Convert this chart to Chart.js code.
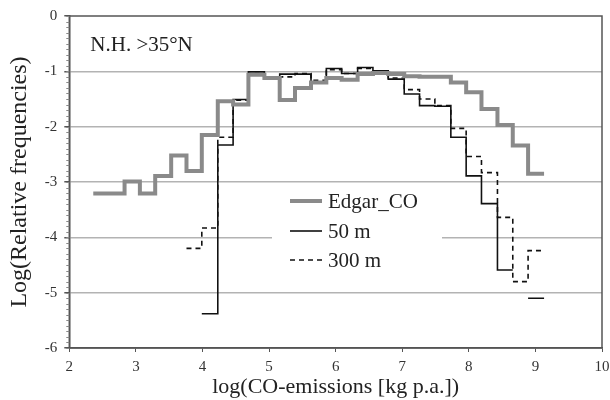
<!DOCTYPE html>
<html>
<head>
<meta charset="utf-8">
<script src="https://cdn.jsdelivr.net/npm/chart.js@4.4.1/dist/chart.umd.min.js"></script>
<style>
  html, body { margin: 0; padding: 0; background: #fff; overflow: hidden; }
  #wrap { width: 610px; height: 400px; }
</style>
</head>
<body>
<div id="wrap"><canvas id="coChart" width="610" height="400"></canvas></div>
<script>
'use strict';

// bin edges of the histogram, log(CO-emissions)
var binEdges = [2.36, 2.59, 2.83, 3.06, 3.29, 3.53, 3.76, 3.99, 4.23, 4.46,
  4.69, 4.93, 5.16, 5.39, 5.63, 5.86, 6.09, 6.33, 6.56, 6.79,
  7.03, 7.26, 7.49, 7.73, 7.96, 8.19, 8.43, 8.66, 8.89, 9.13];

// log(relative frequency) per bin, null = no value
var edgarValues = [-3.21, -3.21, -2.99, -3.21, -2.89, -2.52, -2.80, -2.15, -1.54, -1.60,
  -1.06, -1.12, -1.52, -1.30, -1.20, -1.12, -1.15, -1.05, -1.03, -1.05,
  -1.09, -1.10, -1.10, -1.20, -1.38, -1.68, -1.97, -2.34, -2.85];
var values50m = [null, null, null, null, null, null, null, -5.38, -2.33, -1.51,
  -1.01, -1.12, -1.05, -1.05, -1.19, -0.95, -1.04, -0.93, -0.99, -1.14,
  -1.41, -1.62, -1.63, -2.19, -2.89, -3.39, -4.59, null, -5.10];
var values300m = [null, null, null, null, null, null, -4.20, -3.83, -2.19, -1.52,
  -1.04, -1.10, -1.10, -1.04, -1.16, -0.97, -1.04, -0.95, -1.00, -1.12,
  -1.33, -1.50, -1.62, -2.03, -2.54, -2.83, -3.64, -4.80, -4.24];

var seriesNames = ['Edgar_CO', '50 m', '300 m'];
var xTicks = [2, 3, 4, 5, 6, 7, 8, 9, 10];
var yTicks = [0, -1, -2, -3, -4, -5, -6];
var regionNote = 'N.H. >35\u00b0N';

var serif = '"Liberation Serif", "Times New Roman", serif';

// turn bin values into step points (left edge, right edge of each bin)
function stepPoints(values) {
  var pts = [];
  for (var i = 0; i < values.length; i++) {
    if (values[i] === null) {
      if (pts.length && pts[pts.length - 1].y !== null) {
        pts.push({x: binEdges[i], y: null});
      }
      continue;
    }
    pts.push({x: binEdges[i], y: values[i]});
    pts.push({x: binEdges[i + 1], y: values[i]});
  }
  return pts;
}

var data = {
  datasets: [
    {
      label: seriesNames[0],
      data: stepPoints(edgarValues),
      borderColor: '#8a8a8a',
      borderWidth: 4,
      borderJoinStyle: 'miter'
    },
    {
      label: seriesNames[1],
      data: stepPoints(values50m),
      borderColor: '#111',
      borderWidth: 1.6,
      borderJoinStyle: 'miter'
    },
    {
      label: seriesNames[2],
      data: stepPoints(values300m),
      borderColor: '#111',
      borderWidth: 1.6,
      borderDash: [5, 4],
      borderJoinStyle: 'miter'
    }
  ]
};

// frame, minor ticks, note and legend drawn on the canvas
var framePlugin = {
  id: 'frame',
  beforeDatasetsDraw: function(chart) {
    var ctx = chart.ctx;
    ctx.save();
    ctx.fillStyle = '#fff';
    ctx.fillRect(272, 188, 170, 84);
    ctx.restore();
  },
  afterDraw: function(chart) {
    var ctx = chart.ctx;
    var area = chart.chartArea;
    var y = chart.scales.y;
    ctx.save();
    ctx.strokeStyle = '#555';
    ctx.lineWidth = 1.5;
    ctx.strokeRect(area.left, area.top, area.right - area.left, area.bottom - area.top);

    // minor ticks on the y axis
    ctx.lineWidth = 1;
    ctx.strokeStyle = '#888';
    for (var k = 0; k <= 60; k++) {
      var py = Math.round(y.getPixelForValue(-k / 10)) + 0.5;
      ctx.beginPath();
      ctx.moveTo(area.left - 3, py);
      ctx.lineTo(area.left, py);
      ctx.stroke();
    }

    ctx.fillStyle = '#222';
    ctx.font = '21px ' + serif;
    ctx.textBaseline = 'middle';
    ctx.fillText(regionNote, area.left + 21, 45);

    // legend
    var rows = [201, 231, 260];
    chart.data.datasets.forEach(function(ds, i) {
      ctx.save();
      ctx.strokeStyle = ds.borderColor;
      ctx.lineWidth = ds.borderWidth;
      ctx.setLineDash(ds.borderDash || []);
      ctx.beginPath();
      ctx.moveTo(290, rows[i]);
      ctx.lineTo(322, rows[i]);
      ctx.stroke();
      ctx.restore();
      ctx.fillStyle = '#222';
      ctx.fillText(ds.label, 328, rows[i] + 1);
    });
    ctx.restore();
  }
};

var ctx = document.getElementById('coChart').getContext('2d');
var coChart = new Chart(ctx, {
  type: 'line',
  data: data,
  plugins: [framePlugin],
  options: {
    responsive: false,
    animation: false,
    layout: {
      padding: {top: 7, right: 8, bottom: 2, left: 5}
    },
    elements: {
      point: {radius: 0},
      line: {tension: 0, fill: false}
    },
    plugins: {
      legend: {display: false},
      tooltip: {enabled: false}
    },
    scales: {
      x: {
        type: 'linear',
        min: 2,
        max: 10,
        afterBuildTicks: function(scale) {
          scale.ticks = xTicks.map(function(v) { return {value: v}; });
        },
        afterFit: function(scale) {
          scale.paddingRight = 0;
        },
        grid: {
          drawOnChartArea: false,
          drawTicks: true,
          tickLength: 4,
          tickColor: '#555'
        },
        border: {color: '#555', width: 1.5},
        ticks: {
          padding: 6,
          color: '#333',
          font: {family: serif, size: 15}
        },
        title: {
          display: true,
          text: 'log(CO-emissions [kg p.a.])',
          color: '#222',
          font: {family: serif, size: 22, lineHeight: 1},
          padding: {top: -6, bottom: 0}
        }
      },
      y: {
        min: -6,
        max: 0,
        afterBuildTicks: function(scale) {
          scale.ticks = yTicks.map(function(v) { return {value: v}; });
        },
        grid: {
          color: function(c) {
            var v = c.tick ? c.tick.value : 0;
            return (v === 0 || v === -6) ? 'rgba(0,0,0,0)' : '#b3b3b3';
          },
          lineWidth: 1.5,
          tickLength: 5,
          tickColor: '#555'
        },
        border: {color: '#555', width: 1.5},
        ticks: {
          padding: 7,
          color: '#333',
          font: {family: serif, size: 15}
        },
        title: {
          display: true,
          text: 'Log(Relative frequencies)',
          color: '#222',
          font: {family: serif, size: 24},
          padding: {top: 0, bottom: 4}
        }
      }
    }
  }
});
</script>
</body>
</html>
